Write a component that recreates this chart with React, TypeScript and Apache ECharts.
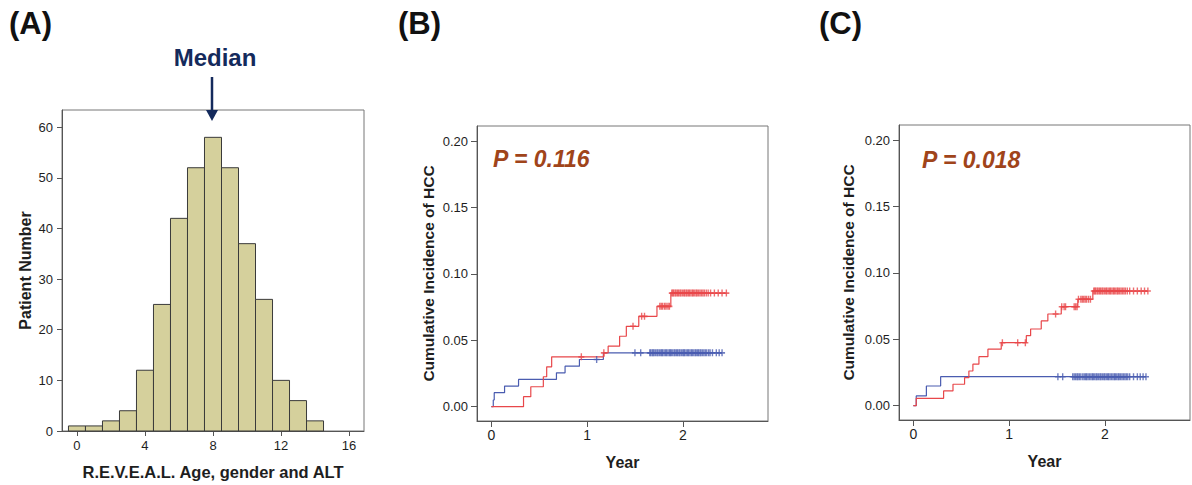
import React, { useEffect, useRef } from "react";
import * as echarts from "echarts";

// ---------- Panel A: histogram ----------
const histScores = [0, 1, 2, 3, 4, 5, 6, 7, 8, 9, 10, 11, 12, 13, 14];
const histCounts = [1, 1, 2, 4, 12, 25, 42, 52, 58, 52, 37, 26, 10, 6, 2];
const histXTicks = [0, 4, 8, 12, 16];
const histYTicks = [0, 10, 20, 30, 40, 50, 60];

// ---------- Panel B: cumulative incidence ----------
const blueB: [number, number][] = [
  [0, 0], [0.02, 0.005], [0.03, 0.0105], [0.138, 0.0155], [0.284, 0.0205],
  [0.68, 0.0255], [0.77, 0.0305], [0.92, 0.0355], [1.17, 0.0405], [2.41, 0.0405],
];
const redB: [number, number][] = [
  [0, 0], [0.336, 0.0075], [0.412, 0.015], [0.543, 0.0225], [0.578, 0.03],
  [0.63, 0.0375], [1.175, 0.0405], [1.22, 0.0455], [1.34, 0.053], [1.41, 0.0605],
  [1.54, 0.068], [1.73, 0.0755], [1.875, 0.0855], [2.46, 0.0855],
];
const blueCensorB = [1.1, 1.5, 1.56, 1.655, 1.665, 1.68, 1.69, 1.7, 1.715, 1.73, 1.74, 1.755, 1.77,
  1.78, 1.79, 1.805, 1.82, 1.83, 1.845, 1.86, 1.87, 1.88, 1.895, 1.91, 1.92, 1.935, 1.945, 1.96,
  1.97, 1.985, 2.0, 2.01, 2.02, 2.035, 2.05, 2.06, 2.075, 2.09, 2.1, 2.115, 2.13, 2.14, 2.155,
  2.165, 2.18, 2.19, 2.205, 2.22, 2.235, 2.25, 2.27, 2.285, 2.31, 2.35, 2.38, 2.41];
const redCensorB = [0.94, 1.175, 1.48, 1.57, 1.6, 1.76, 1.775, 1.79, 1.81, 1.825, 1.845, 1.86,
  1.885, 1.895, 1.905, 1.92, 1.93, 1.945, 1.955, 1.97, 1.98, 1.995, 2.01, 2.02, 2.035, 2.045,
  2.06, 2.07, 2.085, 2.1, 2.11, 2.125, 2.14, 2.15, 2.165, 2.18, 2.195, 2.21, 2.225, 2.245, 2.265,
  2.29, 2.33, 2.37, 2.41, 2.455];

// ---------- Panel C: cumulative incidence ----------
const blueC: [number, number][] = [
  [0, 0], [0.03, 0.0073], [0.136, 0.0148], [0.285, 0.0218], [2.43, 0.0218],
];
const redC: [number, number][] = [
  [0, 0], [0.03, 0.0055], [0.316, 0.0111], [0.414, 0.0161], [0.535, 0.0211], [0.58, 0.0261],
  [0.622, 0.0312], [0.685, 0.0369], [0.779, 0.0425], [0.918, 0.0474], [1.18, 0.0527],
  [1.225, 0.0577], [1.336, 0.0638], [1.405, 0.069], [1.545, 0.0745], [1.718, 0.0801],
  [1.875, 0.0863], [2.45, 0.0863],
];
const blueCensorC = [1.51, 1.56, 1.665, 1.68, 1.695, 1.71, 1.72, 1.735, 1.75, 1.77, 1.785, 1.8,
  1.81, 1.825, 1.84, 1.855, 1.87, 1.88, 1.895, 1.91, 1.92, 1.935, 1.95, 1.96, 1.975, 1.99, 2.0,
  2.015, 2.03, 2.04, 2.055, 2.07, 2.085, 2.1, 2.11, 2.125, 2.14, 2.15, 2.165, 2.18, 2.195, 2.21,
  2.225, 2.24, 2.26, 2.3, 2.34, 2.37, 2.4, 2.43];
const redCensorC = [0.93, 1.09, 1.17, 1.486, 1.55, 1.575, 1.59, 1.68, 1.695, 1.71, 1.725, 1.75,
  1.765, 1.78, 1.795, 1.81, 1.83, 1.85, 1.885, 1.895, 1.905, 1.92, 1.93, 1.945, 1.955, 1.97, 1.98,
  1.995, 2.01, 2.02, 2.035, 2.05, 2.06, 2.075, 2.09, 2.1, 2.115, 2.13, 2.14, 2.155, 2.17, 2.185,
  2.2, 2.215, 2.235, 2.26, 2.3, 2.34, 2.38, 2.415, 2.45];

const yearTicks = [0, 1, 2];
const incTicks = [0, 0.05, 0.1, 0.15, 0.2];
const pValueB = "P = 0.116";
const pValueC = "P = 0.018";

const RED = "#e8474a";
const BLUE = "#4a5cb0";
const FONT = "Liberation Sans, Arial, sans-serif";
const PLUS = "path://M0,5L10,5M5,0L5,10";

function valueAt(curve: [number, number][], t: number): number {
  let v = 0;
  for (const [x, y] of curve) {
    if (x <= t) v = y;
  }
  return v;
}

export default function App() {
  const ref = useRef<HTMLDivElement>(null);

  useEffect(() => {
    if (!ref.current) return;
    const chart = echarts.init(ref.current, undefined, { renderer: "svg" });

    const tickLabel = { fontSize: 13, color: "#1e1e1e", fontFamily: FONT };
    const nameStyle = { fontSize: 16, fontWeight: "bold" as const, color: "#1e1e1e", fontFamily: FONT };
    const axisLine = { show: true, onZero: false, lineStyle: { color: "#555", width: 1 } };
    const axisTick = (vals: number[]) => ({
      show: true, length: 5, customValues: vals, lineStyle: { color: "#555" },
    });

    const incidenceY = (gridIndex: number, gap: number) => ({
      type: "value", gridIndex, min: -0.0108, max: 0.2113,
      name: "Cumulative Incidence of HCC", nameLocation: "middle", nameGap: gap,
      nameTextStyle: { ...nameStyle, fontSize: 15.5 },
      axisLine, axisTick: { ...axisTick(incTicks), length: 6 },
      axisLabel: { ...tickLabel, margin: 9, customValues: incTicks, formatter: (v: number) => v.toFixed(2) },
      splitLine: { show: false },
    });
    const yearX = (gridIndex: number) => ({
      type: "value", gridIndex, min: -0.15, max: 2.89,
      name: "Year", nameLocation: "middle", nameGap: 33, nameTextStyle: nameStyle,
      axisLine, axisTick: { ...axisTick(yearTicks), length: 6 },
      axisLabel: { ...tickLabel, fontSize: 14, margin: 7, customValues: yearTicks },
      splitLine: { show: false },
    });

    const stepLine = (data: [number, number][], color: string, xi: number) => ({
      type: "line", xAxisIndex: xi, yAxisIndex: xi, data, step: "end",
      showSymbol: false, symbol: "none", lineStyle: { color, width: 1.2 }, z: 3,
    });
    const censors = (times: number[], curve: [number, number][], color: string, xi: number) => ({
      type: "scatter", xAxisIndex: xi, yAxisIndex: xi,
      data: times.map((t) => [t, valueAt(curve, t)]),
      symbol: PLUS, symbolSize: [6, 7],
      itemStyle: { color: "none", borderColor: color, borderWidth: 1.5 }, z: 4,
    });

    const gridCommon = { show: true, borderColor: "#777", borderWidth: 1, backgroundColor: "transparent", containLabel: false };

    chart.setOption({
      animation: false,
      textStyle: { fontFamily: FONT },
      grid: [
        { ...gridCommon, left: 62, top: 110, width: 302, height: 322 },
        { ...gridCommon, left: 477, top: 126, width: 291, height: 295 },
        { ...gridCommon, left: 899, top: 125, width: 291, height: 295 },
      ],
      xAxis: [
        {
          type: "value", gridIndex: 0, min: -0.88, max: 16.88,
          name: "R.E.V.E.A.L. Age, gender and ALT", nameLocation: "middle", nameGap: 32,
          nameTextStyle: { ...nameStyle, fontSize: 16.5 },
          axisLine, axisTick: axisTick(histXTicks),
          axisLabel: { ...tickLabel, margin: 8, customValues: histXTicks },
          splitLine: { show: false },
        },
        yearX(1),
        yearX(2),
      ],
      yAxis: [
        {
          type: "value", gridIndex: 0, min: 0, max: 63.4,
          name: "Patient Number", nameLocation: "middle", nameGap: 29, nameTextStyle: nameStyle,
          axisLine, axisTick: axisTick(histYTicks),
          axisLabel: { ...tickLabel, margin: 9, customValues: histYTicks },
          splitLine: { show: false },
        },
        incidenceY(1, 41),
        incidenceY(2, 43),
      ],
      series: [
        {
          type: "custom", xAxisIndex: 0, yAxisIndex: 0,
          data: histScores.map((s, i) => [s, histCounts[i]]),
          renderItem: (params: any, api: any) => {
            const x = api.value(0);
            const y = api.value(1);
            const p0 = api.coord([x - 0.5, y]);
            const p1 = api.coord([x + 0.5, 0]);
            return {
              type: "rect",
              shape: { x: p0[0], y: p0[1], width: p1[0] - p0[0], height: p1[1] - p0[1] },
              style: { fill: "#d5d09c", stroke: "#3a3a3a", lineWidth: 1 },
            };
          },
        },
        stepLine(blueB, BLUE, 1),
        stepLine(redB, RED, 1),
        censors(blueCensorB, blueB, BLUE, 1),
        censors(redCensorB, redB, RED, 1),
        stepLine(blueC, BLUE, 2),
        stepLine(redC, RED, 2),
        censors(blueCensorC, blueC, BLUE, 2),
        censors(redCensorC, redC, RED, 2),
      ],
      graphic: [
        { type: "text", left: 9, top: 8, style: { text: "(A)", font: `bold 31px ${FONT}`, fill: "#111" } },
        { type: "text", left: 398, top: 8, style: { text: "(B)", font: `bold 31px ${FONT}`, fill: "#111" } },
        { type: "text", left: 819, top: 8, style: { text: "(C)", font: `bold 31px ${FONT}`, fill: "#111" } },
        {
          type: "text", x: 215, y: 57,
          style: { text: "Median", font: `bold 24px ${FONT}`, fill: "#142a5c", align: "center", verticalAlign: "middle" },
        },
        { type: "line", shape: { x1: 212, y1: 77, x2: 212, y2: 112 }, style: { stroke: "#142a5c", lineWidth: 2.5 } },
        { type: "polygon", shape: { points: [[206, 110], [218, 110], [212, 121]] }, style: { fill: "#142a5c" } },
        {
          type: "text", x: 493, y: 159,
          style: { text: pValueB, font: `italic bold 23px ${FONT}`, fill: "#a0441a", verticalAlign: "middle" },
        },
        {
          type: "text", x: 922, y: 160,
          style: { text: pValueC, font: `italic bold 23px ${FONT}`, fill: "#a0441a", verticalAlign: "middle" },
        },
      ],
    });

    return () => chart.dispose();
  }, []);

  return (
    <div
      ref={ref}
      style={{ position: "absolute", left: 0, top: 0, width: 1192, height: 485, background: "#fff" }}
    />
  );
}
